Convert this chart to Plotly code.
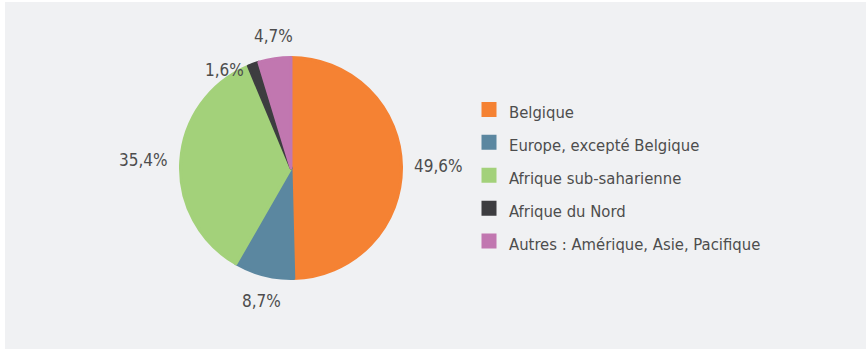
import math
import plotly.graph_objects as go

# Répartition par origine
regions = [
    "Belgique",
    "Europe, excepté Belgique",
    "Afrique sub-saharienne",
    "Afrique du Nord",
    "Autres : Amérique, Asie, Pacifique",
]
parts = [49.6, 8.7, 35.4, 1.6, 4.7]
colors = ["#f58233", "#5b87a0", "#a3d17a", "#3d3d40", "#c177b0"]

# label anchoring around the pie
label_xanchor = ["left", "center", "right", "right", "center"]
label_yanchor = ["middle", "top", "middle", "top", "bottom"]

W, H = 866, 349
CX, CY, R = 291, 168, 112        # pie centre and radius, px
GAP = 9                           # distance between rim and label, px
TXT = "#4d4d4d"
FONT = "Liberation Sans Narrow, DejaVu Sans Condensed, Roboto, sans-serif"

fmt = [f"{v:.1f}".replace(".", ",") + "%" for v in parts]
legend_names = [f"<span style='font-size:16.5px'>{r}</span>" for r in regions]

fig = go.Figure(
    go.Pie(
        labels=legend_names,
        values=parts,
        textinfo="none",
        sort=False,
        direction="clockwise",
        rotation=0,
        marker=dict(colors=colors, line=dict(color=colors, width=3)),
        domain=dict(x=[(CX - R + 1.5) / W, (CX + R - 1.5) / W],
                    y=[1 - (CY + R - 1.5) / H, 1 - (CY - R + 1.5) / H]),
        hoverinfo="skip",
    )
)

# percentage labels placed at each slice's mid-angle
total = sum(parts)
cum = 0.0
for v, txt, xa, ya in zip(parts, fmt, label_xanchor, label_yanchor):
    mid = (cum + v / 2) / total * 2 * math.pi
    cum += v
    px = CX + (R + GAP) * math.sin(mid)
    py = CY - (R + GAP) * math.cos(mid)
    corner = xa == "right" and ya == "top"
    fig.add_annotation(
        x=px / W, y=1 - py / H, xref="paper", yref="paper",
        text=txt, showarrow=False, xanchor=xa, yanchor=ya,
        yshift=-4 if ya == "top" else 0,
        xshift=-4 if corner else 0,
        font=dict(size=17, color=TXT, family=FONT),
    )

fig.update_layout(
    width=W,
    height=H,
    margin=dict(l=0, r=0, t=0, b=0),
    paper_bgcolor="white",
    plot_bgcolor="white",
    font=dict(family=FONT, color=TXT),
    showlegend=True,
    legend=dict(
        x=469 / W,
        y=1 - 88 / H,
        xanchor="left",
        yanchor="top",
        font=dict(size=23, color=TXT, family=FONT),
        bgcolor="rgba(0,0,0,0)",
        itemclick=False,
        itemdoubleclick=False,
    ),
    shapes=[
        dict(
            type="rect",
            xref="paper",
            yref="paper",
            x0=5 / W,
            x1=1,
            y0=0,
            y1=1 - 2 / H,
            fillcolor="#f0f1f3",
            line=dict(width=0),
            layer="below",
        )
    ],
)

fig.write_html("out.html")
